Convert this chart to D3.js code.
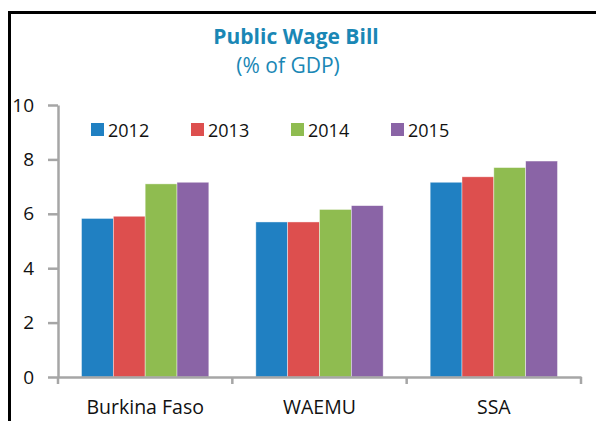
<!DOCTYPE html>
<head>
  <meta charset="utf-8">
  <title>Public Wage Bill</title>
  <style>
  body { margin: 0; background: #fff; }
  text { font-family: "Open Sans", "Noto Sans", sans-serif; }
  .axis path, .axis line { stroke: #a6a6a6; stroke-width: 2.5; }
  .axis text { fill: #111; }
  .axis--y text { font-size: 19px; }
  .axis--x text { font-size: 19.5px; }
  .title { fill: #1a87b5; font-size: 21px; font-weight: bold; text-anchor: middle; }
  .subtitle { fill: #1a87b5; font-size: 21px; text-anchor: middle; }
  .legend text { font-size: 18px; fill: #111; }
  </style>
</head>
<body>
<svg id="chart"></svg>

<script src="https://cdn.jsdelivr.net/npm/d3@7"></script>
<script>
"use strict";

// dados
var categories = ["Burkina Faso", "WAEMU", "SSA"];
var years = ["2012", "2013", "2014", "2015"];
var v2012 = [5.83, 5.70, 7.16];
var v2013 = [5.91, 5.70, 7.36];
var v2014 = [7.10, 6.16, 7.70];
var v2015 = [7.16, 6.30, 7.94];
var yTicks = [0, 2, 4, 6, 8, 10];
var colors = ["#2080c2", "#dd4f4e", "#8fbc50", "#8a64a6"];

var series = [v2012, v2013, v2014, v2015];
var data = categories.map(function(c, i) {
  return { cat: c, values: years.map(function(y, j) { return { year: y, value: series[j][i] }; }) };
});

var totalWidth = 596, totalHeight = 421;
var svg = d3.select("#chart")
    .attr("width", totalWidth)
    .attr("height", totalHeight);

// moldura
svg.append("path")
    .attr("d", "M9.5,440 V12.5 H620")
    .attr("fill", "none")
    .attr("stroke", "#000")
    .attr("stroke-width", 3);

svg.append("text").attr("class", "title")
    .attr("x", 296).attr("y", 44).text("Public Wage Bill");
svg.append("text").attr("class", "subtitle")
    .attr("x", 288).attr("y", 73).text("(% of GDP)");

var margin = {top: 105, left: 58},
    width = 523,
    height = 272;

var g = svg.append("g")
    .attr("transform", "translate(" + margin.left + "," + margin.top + ")");

var x0 = d3.scaleBand()
    .domain(categories)
    .range([0, width])
    .paddingInner(0)
    .paddingOuter(0);

var x1 = d3.scaleBand()
    .domain(years)
    .range([23.5, x0.bandwidth() - 23.5])
    .padding(0);

var y = d3.scaleLinear()
    .domain([0, 10])
    .range([height, 0]);

// barras
var group = g.selectAll(".grp")
    .data(data)
  .enter().append("g")
    .attr("class", "grp")
    .attr("transform", function(d) { return "translate(" + x0(d.cat) + ",0)"; });

group.selectAll("rect")
    .data(function(d) { return d.values; })
  .enter().append("rect")
    .attr("x", function(d) { return x1(d.year); })
    .attr("y", function(d) { return y(d.value); })
    .attr("width", x1.bandwidth())
    .attr("height", function(d) { return height - y(d.value); })
    .attr("fill", function(d, i) { return colors[i]; })
    .attr("stroke", "rgba(255,255,255,0.6)")
    .attr("stroke-width", 0.7);

// eixos
var yAxis = g.append("g")
    .attr("class", "axis axis--y")
    .call(d3.axisLeft(y).tickValues(yTicks).tickSize(10).tickSizeOuter(0).tickPadding(14));

var xAxis = g.append("g")
    .attr("class", "axis axis--x")
    .attr("transform", "translate(0," + height + ")")
    .call(d3.axisBottom(x0).tickSize(0).tickSizeOuter(0).tickPadding(23));

// marcas entre categorias
xAxis.selectAll(".sep")
    .data([0].concat(categories.map(function(c) { return x0(c) + x0.bandwidth(); })))
  .enter().append("line")
    .attr("class", "sep")
    .attr("x1", function(d) { return d; })
    .attr("x2", function(d) { return d; })
    .attr("y1", 0)
    .attr("y2", 7);

// legenda
var legend = svg.append("g").attr("class", "legend")
    .selectAll("g")
    .data(years)
  .enter().append("g")
    .attr("transform", function(d, i) { return "translate(" + (91 + i * 100) + ",123)"; });

legend.append("rect")
    .attr("width", 13)
    .attr("height", 13)
    .attr("fill", function(d, i) { return colors[i]; });

legend.append("text")
    .attr("x", 17)
    .attr("y", 14)
    .text(function(d) { return d; });
</script>
</body>
